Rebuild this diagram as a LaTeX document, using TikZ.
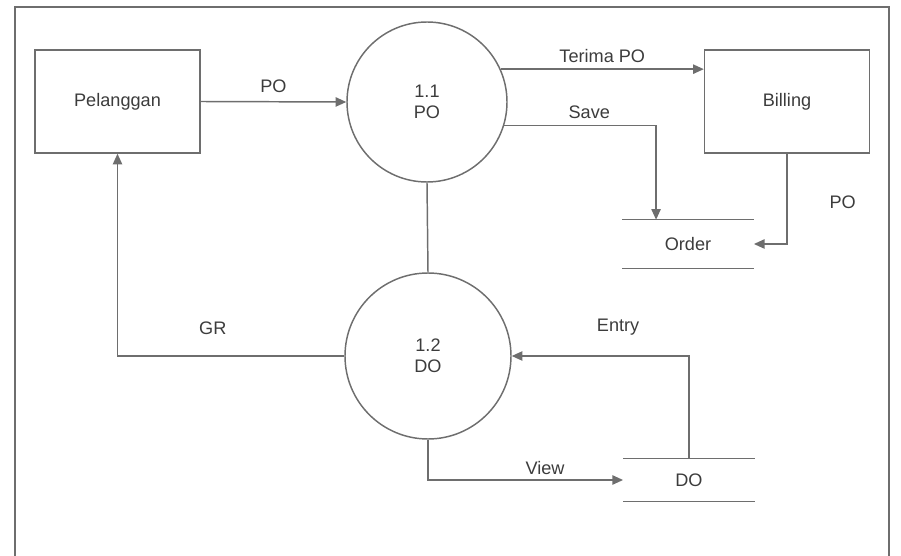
\documentclass[tikz,border=0pt]{standalone}
\usepackage{fontspec}
\setmainfont{Liberation Sans}
\usepackage{tikz}
\usetikzlibrary{shapes,arrows.meta,positioning,calc}
\definecolor{dfdline}{RGB}{110,110,110}
\definecolor{dfdtext}{RGB}{60,60,60}

\begin{document}
\begin{tikzpicture}[x=0.75pt,y=-0.75pt,
        font=\fontsize{13.6}{16}\selectfont,text=dfdtext,
        entity/.style={draw=dfdline,line width=1.1pt,minimum width=123.75pt,
                       minimum height=77.25pt,align=center},
        proc/.style={draw=dfdline,line width=1.1pt,circle,minimum size=#1,
                     inner sep=0pt,align=center},
        store/.style={minimum width=98.5pt,minimum height=#1,inner sep=0pt},
        flow/.style={-{Triangle[length=8pt,width=7pt]},line width=1.1pt,dfdline},
        link/.style={line width=1.1pt,dfdline},
        lbl/.style={text=dfdtext}
    ]
        \useasboundingbox (0,0) rectangle (901,556);
        % frame (bottom edge is outside the picture)
        \draw[link] (15,556) -- (15,7) -- (889,7) -- (889,556);

        \node[entity] (pel) at (117.5,101.5) {Pelanggan};
        \node[entity] (bill) at (787,101.5) {Billing};
        \node[proc=120pt] (p11) at (427,102) {1.1\\PO};
        \node[proc=124.5pt] (p12) at (428,356) {1.2\\DO};
        \node[store=36pt] (order) at (688,244) {Order};
        \node[store=31.5pt] (dost) at (689,480) {DO};

        % data stores
        \draw[link] (order.north west) -- (order.north east);
        \draw[link] (order.south west) -- (order.south east);
        \draw[link] (dost.north west) -- (dost.north east);
        \draw[link] (dost.south west) -- (dost.south east);

        \coordinate (savein) at ($(order.north west)+(34,0)$);

        \draw[flow] (pel.east) -- node[lbl,above=3pt] {PO} (p11.west);
        \draw[flow] (p11.24) -- node[lbl,above=1pt] {Terima PO} (p11.24 -| bill.west);
        \draw[flow] (p11.-17) -| node[lbl,pos=0.28,above=1pt] {Save} (savein);
        \draw[flow] (bill.south) |- node[lbl,pos=0.27,right=28pt] {PO} (order.east);
        \draw[link] (p11.south) -- (p12.north);
        \draw[flow] (p12.west) -| node[lbl,pos=0.29,above=12pt] {GR} (pel.south);
        \draw[flow] (dost.north) |- node[lbl,pos=0.7,above=12pt] {Entry} (p12.east);
        \draw[flow] (p12.south) |- node[lbl,pos=0.8,above=0pt] {View} (dost.west);
    \end{tikzpicture}
\end{document}
